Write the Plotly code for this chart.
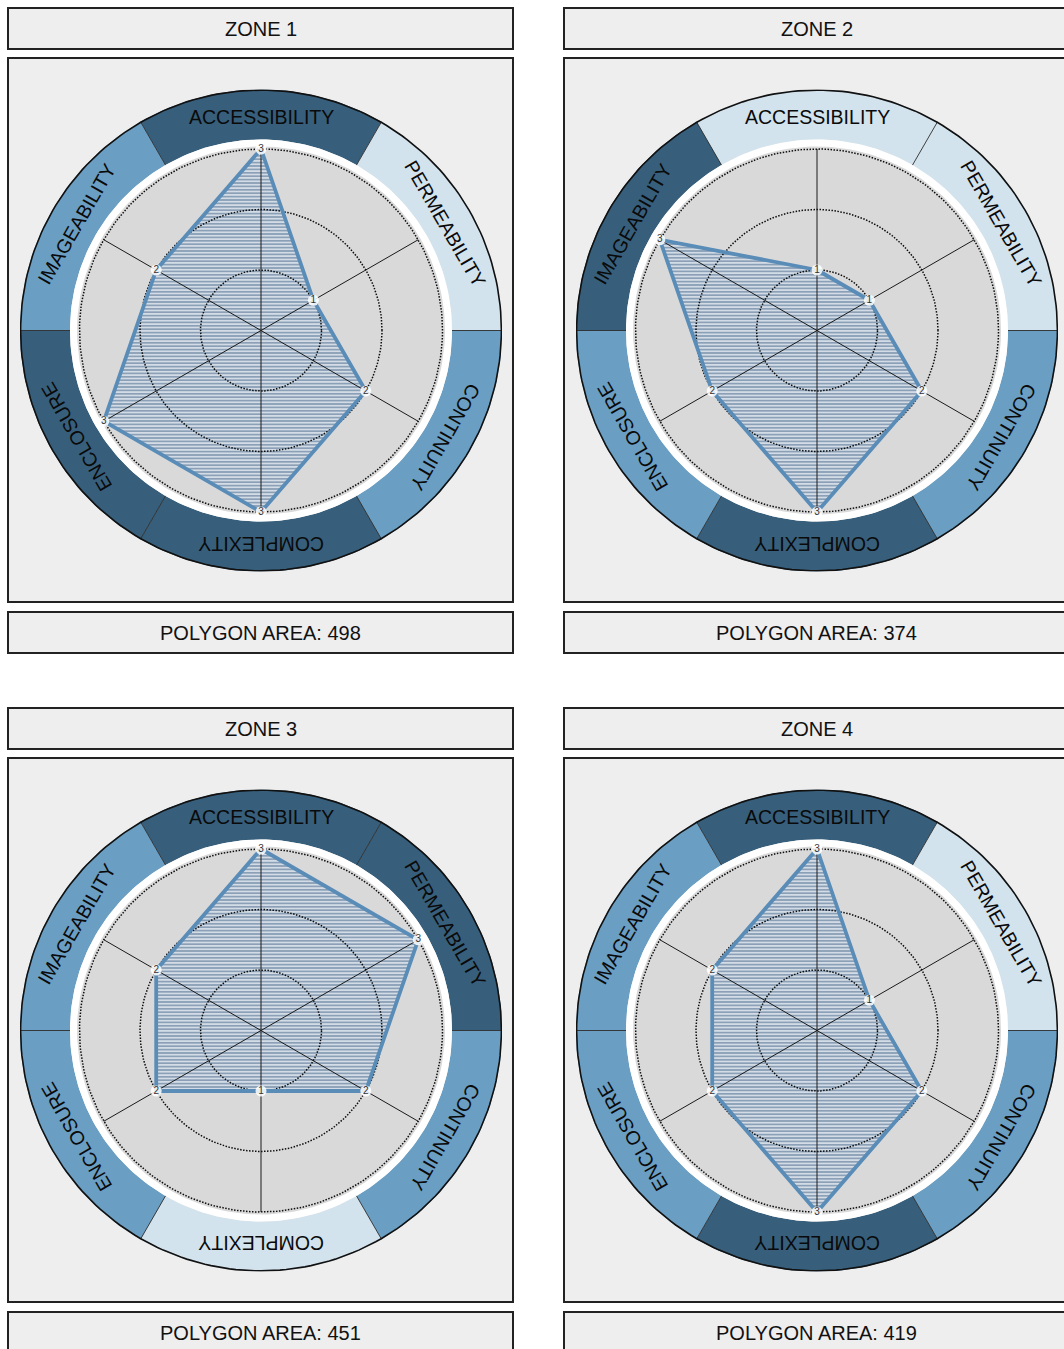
import math
import plotly.graph_objects as go

# ---- data ----
ZONE_TITLES = ["ZONE 1", "ZONE 2", "ZONE 3", "ZONE 4"]
CRITERIA = ["ACCESSIBILITY", "PERMEABILITY", "CONTINUITY",
            "COMPLEXITY", "ENCLOSURE", "IMAGEABILITY"]
ZONE_1 = [3, 1, 2, 3, 3, 2]
ZONE_2 = [1, 1, 2, 3, 2, 3]
ZONE_3 = [3, 3, 2, 1, 2, 2]
ZONE_4 = [3, 1, 2, 3, 2, 2]
POLYGON_AREAS = [498, 374, 451, 419]
SCORE_TICKS = [1, 2, 3]

# ---- styling ----
W, H = 1064, 1349
UNIT = 60.5                    # px per score step
R_GRAY = 184 / UNIT
R_WHITE = 191 / UNIT
R_OUT = 241 / UNIT
R_TEXT = 213 / UNIT
RING_COLORS = {1: "#d3e3ed", 2: "#6a9ec3", 3: "#375f7b"}
FONT = "Liberation Sans, Arial, sans-serif"
LINE_BLUE = "#5a8cb8"


def circle_xy(r, n=240):
    ts = [2 * math.pi * k / n for k in range(n + 1)]
    return [r * math.cos(t) for t in ts], [r * math.sin(t) for t in ts]


def sector_xy(r0, r1, a0, a1, n=40):
    ts = [math.radians(a0 + (a1 - a0) * k / n) for k in range(n + 1)]
    xs = [r1 * math.cos(t) for t in ts] + [r0 * math.cos(t) for t in reversed(ts)]
    ys = [r1 * math.sin(t) for t in ts] + [r0 * math.sin(t) for t in reversed(ts)]
    return xs + [xs[0]], ys + [ys[0]]


fig = go.Figure()
shapes, annotations = [], []
zones = [ZONE_1, ZONE_2, ZONE_3, ZONE_4]
angles = [90 - 60 * i for i in range(len(CRITERIA))]

for k, scores in enumerate(zones):
    dx = 556 * (k % 2)
    dy = 700 * (k // 2)
    sfx = "" if k == 0 else str(k + 1)
    xa, ya = "x" + sfx, "y" + sfx

    # boxes
    for bx0, by0, bx1, by1 in [(8, 8, 513, 49), (8, 58, 513, 602), (8, 612, 513, 653)]:
        shapes.append(dict(type="rect", xref="paper", yref="paper", layer="below",
                           x0=(bx0 + dx) / W, x1=(bx1 + dx) / W,
                           y0=1 - (by1 + dy) / H, y1=1 - (by0 + dy) / H,
                           fillcolor="#eeeeee", line=dict(color="#222222", width=2)))
    for txt, ty in [(ZONE_TITLES[k], 29), ("POLYGON AREA: %d" % POLYGON_AREAS[k], 633)]:
        annotations.append(dict(x=(260.5 + dx) / W, y=1 - (ty + dy) / H,
                                xref="paper", yref="paper", text=txt, showarrow=False,
                                xanchor="center", yanchor="middle",
                                font=dict(family=FONT, size=20, color="#111111")))

    # outer ring segments coloured by score, label rotated to the ring
    for crit, a, s in zip(CRITERIA, angles, scores):
        sx, sy = sector_xy(R_WHITE, R_OUT, a - 30, a + 30)
        fig.add_trace(go.Scatter(x=sx, y=sy, mode="lines", fill="toself",
                                 fillcolor=RING_COLORS[s], line=dict(width=0),
                                 xaxis=xa, yaxis=ya, hoverinfo="skip", showlegend=False))
        t = math.radians(a)
        ang = (90 - a + 180) % 360 - 180
        annotations.append(dict(x=R_TEXT * math.cos(t), y=R_TEXT * math.sin(t),
                                xref=xa, yref=ya, text=crit, showarrow=False,
                                textangle=ang, xanchor="center", yanchor="middle",
                                font=dict(family=FONT, size=19.5, color="#0a0a0a")))

    cx, cy = circle_xy(R_WHITE)
    fig.add_trace(go.Scatter(x=cx, y=cy, mode="lines", fill="toself", fillcolor="white",
                             line=dict(width=0), xaxis=xa, yaxis=ya,
                             hoverinfo="skip", showlegend=False))
    cx, cy = circle_xy(R_GRAY)
    fig.add_trace(go.Scatter(x=cx, y=cy, mode="lines", fill="toself", fillcolor="#d9d9d9",
                             line=dict(width=0), xaxis=xa, yaxis=ya,
                             hoverinfo="skip", showlegend=False))

    # score polygon (hatched fill)
    px = [s * math.cos(math.radians(a)) for s, a in zip(scores, angles)]
    py = [s * math.sin(math.radians(a)) for s, a in zip(scores, angles)]
    fig.add_trace(go.Scatter(x=px + px[:1], y=py + py[:1], mode="lines", fill="toself",
                             fillcolor="#d3dce6", line=dict(width=0),
                             fillpattern=dict(shape="-", fgcolor="#7d95ad", bgcolor="#d3dce6",
                                              size=3.4, solidity=0.42, fillmode="replace"),
                             xaxis=xa, yaxis=ya, hoverinfo="skip", showlegend=False))

    # dotted score circles
    for t in SCORE_TICKS:
        cx, cy = circle_xy(t)
        fig.add_trace(go.Scatter(x=cx, y=cy, mode="lines",
                                 line=dict(color="#0d0d0d", width=1.5, dash="1.5px,1.5px"),
                                 xaxis=xa, yaxis=ya, hoverinfo="skip", showlegend=False))

    # spokes and ring separators
    lx, ly, bx, by = [], [], [], []
    for a in angles:
        t = math.radians(a)
        lx += [0, max(SCORE_TICKS) * math.cos(t), None]
        ly += [0, max(SCORE_TICKS) * math.sin(t), None]
        t2 = math.radians(a + 30)
        bx += [R_WHITE * math.cos(t2), R_OUT * math.cos(t2), None]
        by += [R_WHITE * math.sin(t2), R_OUT * math.sin(t2), None]
    fig.add_trace(go.Scatter(x=lx, y=ly, mode="lines", line=dict(color="#1a1a1a", width=1),
                             xaxis=xa, yaxis=ya, hoverinfo="skip", showlegend=False))
    fig.add_trace(go.Scatter(x=bx, y=by, mode="lines", line=dict(color="#2a2a2a", width=0.9),
                             xaxis=xa, yaxis=ya, hoverinfo="skip", showlegend=False))
    cx, cy = circle_xy(R_OUT - 0.01)
    fig.add_trace(go.Scatter(x=cx, y=cy, mode="lines", line=dict(color="#111111", width=1.6),
                             xaxis=xa, yaxis=ya, hoverinfo="skip", showlegend=False))

    # polygon outline and value markers
    fig.add_trace(go.Scatter(x=px + px[:1], y=py + py[:1], mode="lines",
                             line=dict(color=LINE_BLUE, width=3.8),
                             xaxis=xa, yaxis=ya, hoverinfo="skip", showlegend=False))
    fig.add_trace(go.Scatter(x=px, y=py, mode="markers+text", text=[str(s) for s in scores],
                             textposition="middle center",
                             textfont=dict(family=FONT, size=10, color="#333333"),
                             marker=dict(size=11, color="rgba(255,255,255,0.85)"),
                             xaxis=xa, yaxis=ya, hoverinfo="skip", showlegend=False))

    ccx, ccy = 261 + dx, 330.5 + dy
    fig.update_layout(**{
        "xaxis" + sfx: dict(domain=[(ccx - 241) / W, (ccx + 241) / W], range=[-R_OUT, R_OUT],
                            visible=False, fixedrange=True, anchor=ya),
        "yaxis" + sfx: dict(domain=[1 - (ccy + 241) / H, 1 - (ccy - 241) / H],
                            range=[-R_OUT, R_OUT], visible=False, fixedrange=True, anchor=xa),
    })

fig.update_layout(width=W, height=H, margin=dict(l=0, r=0, t=0, b=0),
                  paper_bgcolor="white", plot_bgcolor="rgba(0,0,0,0)",
                  shapes=shapes, annotations=annotations, showlegend=False)
fig.write_html("out.html", config={"displayModeBar": False},
               post_script="document.body.style.margin = '0';")
